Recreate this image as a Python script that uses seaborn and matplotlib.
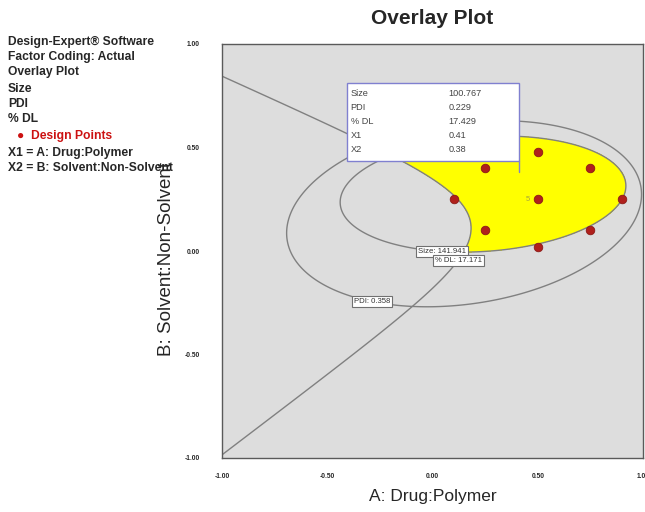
import numpy as np
import pandas as pd
import matplotlib
matplotlib.use("Agg")
import matplotlib.pyplot as plt
from matplotlib.patches import Rectangle
import seaborn as sns

# ---- design points (coded factor levels) ----
drug_polymer = [0.10, 0.25, 0.50, 0.75, 0.90, 0.50, 0.25, 0.50, 0.75]
solvent_ratio = [0.25, 0.40, 0.48, 0.40, 0.25, 0.25, 0.10, 0.02, 0.10]
center_point = (0.50, 0.25)
center_replicates = 5

# ---- response models ----
# Size: elliptical bowl
SIZE_CENTER = (0.24, 0.275)
SIZE_AXES = (0.68, 0.277)
SIZE_ANGLE = 4.0
SIZE_BASE = 90.08
SIZE_GAIN = 51.86
SIZE_LIMIT = 141.941

# PDI: elliptical bowl
PDI_CENTER = (0.15, 0.18)
PDI_AXES = (0.85, 0.436)
PDI_ANGLE = 8.6
PDI_BASE = 0.1867
PDI_GAIN = 0.1713
PDI_LIMIT = 0.358

# % DL: valley between two planes (point x, point y, slope)
DL_UPPER = (-1.0, 0.845, -0.458)
DL_LOWER = (-0.995, -0.981, 0.7725)
DL_SMOOTH = 0.229
DL_BASE = 17.171
DL_GAIN = 1.26
DL_LIMIT = 17.171

# ---- flag ----
flag_labels = ["Size", "PDI", "% DL", "X1", "X2"]
flag_values = ["100.767", "0.229", "17.429", "0.41", "0.38"]
FLAG_X1, FLAG_X2 = 0.41, 0.38

x_ticks = [-1.0, -0.5, 0.0, 0.5, 1.0]
x_tick_labels = ["-1.00", "-0.50", "0.00", "0.50", "1.00"]
y_ticks = [-1.0, -0.5, 0.0, 0.5, 1.0]
y_tick_labels = ["-1.00", "-0.50", "0.00", "0.50", "1.00"]

side_lines = ["Design-Expert\u00ae Software", "Factor Coding: Actual", "Overlay Plot",
              "Size", "PDI", "% DL"]
factor_lines = ["X1 = A: Drug:Polymer", "X2 = B: Solvent:Non-Solvent"]


def ellipse_form(x, y, center, axes, angle):
    th = np.deg2rad(angle)
    dx, dy = x - center[0], y - center[1]
    u = dx * np.cos(th) + dy * np.sin(th)
    v = -dx * np.sin(th) + dy * np.cos(th)
    return (u / axes[0]) ** 2 + (v / axes[1]) ** 2


def line_offset(x, y, line):
    x0, y0, m = line
    return (y - y0 - m * (x - x0)) / np.hypot(1.0, m)


sns.set_style("white")
plt.rcParams["font.family"] = ["Liberation Sans", "DejaVu Sans"]

W, H = 645, 512
fig = plt.figure(figsize=(W / 100, H / 100), dpi=100)
ax = fig.add_axes([222 / W, (H - 458) / H, 421 / W, 414 / H])
ax.set_facecolor("#dddddd")

gx = np.linspace(-1, 1, 700)
X, Y = np.meshgrid(gx, gx)
size = SIZE_BASE + SIZE_GAIN * ellipse_form(X, Y, SIZE_CENTER, SIZE_AXES, SIZE_ANGLE)
pdi = PDI_BASE + PDI_GAIN * ellipse_form(X, Y, PDI_CENTER, PDI_AXES, PDI_ANGLE)
e1 = line_offset(X, Y, DL_UPPER)
e2 = -line_offset(X, Y, DL_LOWER)
dl = DL_BASE + DL_GAIN * DL_SMOOTH * np.logaddexp(e1 / DL_SMOOTH, e2 / DL_SMOOTH)

# sweet spot: all criteria met
margin = np.minimum.reduce([(SIZE_LIMIT - size) / SIZE_GAIN,
                            (PDI_LIMIT - pdi) / PDI_GAIN,
                            (dl - DL_LIMIT) / DL_GAIN])
ax.contourf(X, Y, margin, levels=[0, 100], colors=["#ffff00"], zorder=1)

line_kw = dict(colors="#808080", linewidths=1.0, zorder=2)
cs_size = ax.contour(X, Y, size, levels=[SIZE_LIMIT], **line_kw)
cs_pdi = ax.contour(X, Y, pdi, levels=[PDI_LIMIT], **line_kw)
cs_dl = ax.contour(X, Y, dl, levels=[DL_LIMIT], **line_kw)


def label_on(cs, anchor, text):
    pts = np.vstack([s for s in cs.allsegs[0] if len(s)])
    k = np.argmin(np.hypot(pts[:, 0] - anchor[0], pts[:, 1] - anchor[1]))
    ax.text(pts[k, 0], pts[k, 1], text, fontsize=5.6, color="#333333",
            ha="center", va="center", zorder=5,
            bbox=dict(boxstyle="square,pad=0.25", fc="white", ec="#707070", lw=0.8))


label_on(cs_size, (0.05, 0.02), f"Size: {SIZE_LIMIT:.3f}")
label_on(cs_dl, (0.10, -0.03), f"% DL: {DL_LIMIT:.3f}")
label_on(cs_pdi, (-0.29, -0.25), f"PDI: {PDI_LIMIT:.3f}")

pts = pd.DataFrame({"A": drug_polymer, "B": solvent_ratio})
sns.scatterplot(data=pts, x="A", y="B", ax=ax, color="#b0201c", edgecolor="#8a1a16",
                linewidth=0.6, s=38, zorder=4, legend=False)
ax.text(center_point[0] - 0.035, center_point[1], str(center_replicates),
        fontsize=5.5, color="#a6a63a", ha="right", va="center", zorder=4)

# flag
box_w, box_h, gap = 0.814, 0.377, 0.055
ax.add_patch(Rectangle((FLAG_X1 - box_w, FLAG_X2 + gap), box_w, box_h,
                       fc="white", ec="#8080d0", lw=1.0, zorder=6))
ax.plot([FLAG_X1, FLAG_X1], [FLAG_X2, FLAG_X2 + gap], color="#8080d0", lw=1.0, zorder=6)
top = FLAG_X2 + gap + box_h
for i, (lab, val) in enumerate(zip(flag_labels, flag_values)):
    yy = top - 0.05 - i * 0.068
    ax.text(FLAG_X1 - box_w + 0.015, yy, lab, fontsize=6.6, color="#444444",
            va="center", zorder=7)
    ax.text(FLAG_X1 - box_w + 0.48, yy, val, fontsize=6.6, color="#444444",
            va="center", zorder=7)

ax.set_xlim(-1, 1)
ax.set_ylim(-1, 1)
ax.set_xticks(x_ticks, x_tick_labels)
ax.set_yticks(y_ticks, y_tick_labels)
ax.tick_params(axis="x", direction="inout", length=7, width=0.8, color="#555555",
               labelsize=4.8, pad=7)
ax.tick_params(axis="y", direction="out", length=6, width=0.8, color="#555555",
               labelsize=4.8, pad=10)
for t in ax.get_xticklabels() + ax.get_yticklabels():
    t.set_fontweight("bold")
for sp in ax.spines.values():
    sp.set_color("#5a5a5a")
    sp.set_linewidth(1.0)

ax.set_xlabel("A: Drug:Polymer", fontsize=12.5)
ax.xaxis.set_label_coords(0.5, -(489 - 458) / 414)
ax.set_ylabel("B: Solvent:Non-Solvent", fontsize=13.5)
ax.yaxis.set_label_coords(-(222 - 175) / 421, 0.48)
fig.text(432 / W, 1 - 18 / H, "Overlay Plot", fontsize=15, fontweight="bold",
         ha="center", va="center")

# side legend
fs = 8.7
ys = [42, 57, 72, 89, 104, 119]
for yy, s in zip(ys, side_lines):
    fig.text(8 / W, 1 - yy / H, s, fontsize=fs, fontweight="bold", va="center")
fig.text(17 / W, 1 - 136 / H, "\u25cf  Design Points", fontsize=fs, fontweight="bold",
         color="#cc1111", va="center")
for yy, s in zip([153, 168], factor_lines):
    fig.text(8 / W, 1 - yy / H, s, fontsize=fs, fontweight="bold", va="center")

fig.savefig("out.png", dpi=100)
